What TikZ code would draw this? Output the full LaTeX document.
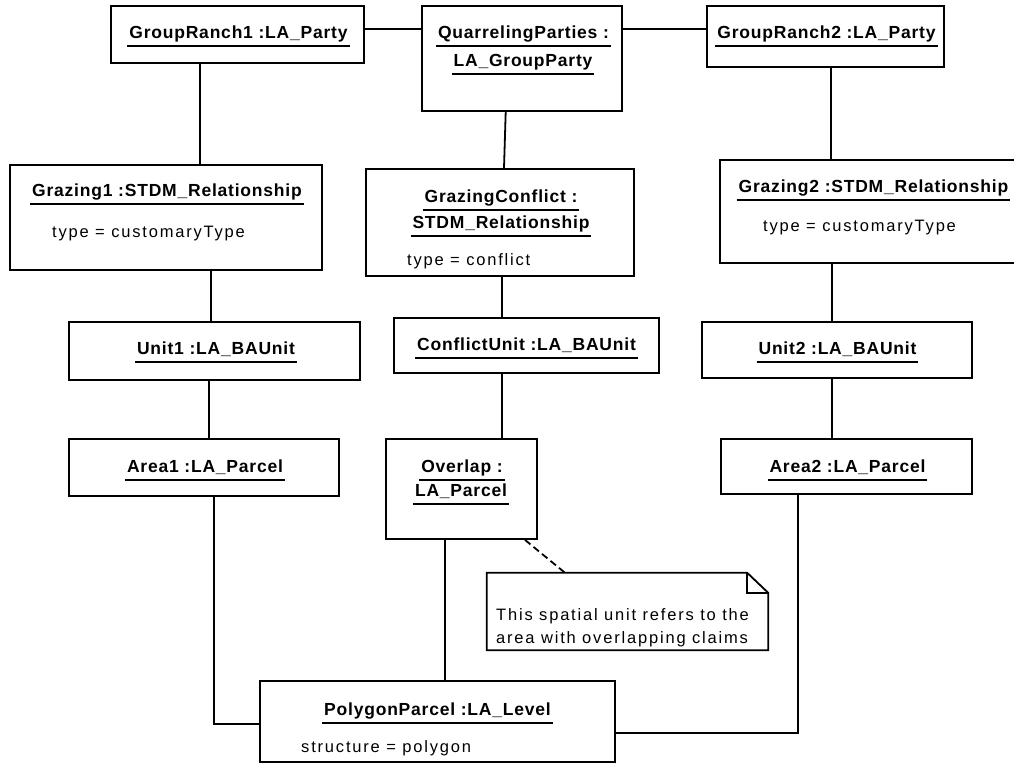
\documentclass[tikz,border=0pt]{standalone}
\usepackage{fontspec}
\setmainfont{Liberation Sans}
\newfontfamily\ttlfam[LetterSpace=4.5]{Liberation Sans}
\newfontfamily\attfam[LetterSpace=11]{Liberation Sans}
\newcommand\ulx[1]{\setbox0\hbox{#1}\rlap{\kern-2pt\rule[-9pt]{\dimexpr\wd0+4pt\relax}{1.8pt}}\box0}
\tikzset{
  box/.style={draw, line width=1.8pt, inner sep=0pt, fill=white},
  ttl/.style={anchor=base, inner sep=0pt, font=\ttlfam\bfseries\fontsize{17.5}{20}\selectfont},
  att/.style={anchor=base west, inner sep=0pt, font=\attfam\fontsize{16.5}{19}\selectfont},
  conn/.style={line width=1.8pt},
  notelink/.style={line width=1.8pt, dash pattern=on 7pt off 4pt}
}
\begin{document}
\begin{tikzpicture}[x=1pt,y=-1pt]
\useasboundingbox (0,0) rectangle (1014,764);
% column / row helper coordinates
\coordinate (c200) at (200,0);
\coordinate (c211) at (211,0);
\coordinate (c209) at (209,0);
\coordinate (c214) at (214,0);
\coordinate (c445) at (445,0);
\coordinate (c502) at (502,0);
\coordinate (c504) at (504,0);
\coordinate (c506) at (505.7,0);
\coordinate (c525) at (525,0);
\coordinate (c565) at (565,0);
\coordinate (c798) at (798,0);
\coordinate (c831) at (831,0);
\coordinate (c832) at (832,0);
\coordinate (r29) at (0,29);
\coordinate (r724) at (0,724);
\coordinate (r733) at (0,733);

% boxes
\node[box, minimum width=253pt, minimum height=57pt] (gr1) at (237.5,34.5) {};
\node[box, minimum width=200pt, minimum height=105pt] (qp) at (522,58.5) {};
\node[box, minimum width=237pt, minimum height=61pt] (gr2) at (825.5,36.5) {};
\node[box, minimum width=312pt, minimum height=105pt] (gz1) at (166,217.5) {};
\node[box, minimum width=268pt, minimum height=107pt] (gc) at (500,222.5) {};
\node[box, minimum width=300pt, minimum height=103pt] (gz2) at (870,211.5) {};
\node[box, minimum width=291pt, minimum height=58pt] (u1) at (214.5,351) {};
\node[box, minimum width=265pt, minimum height=55pt] (cu) at (526.5,345.5) {};
\node[box, minimum width=270pt, minimum height=56pt] (u2) at (837,350) {};
\node[box, minimum width=270pt, minimum height=57pt] (a1) at (204,467.5) {};
\node[box, minimum width=151pt, minimum height=100pt] (ov) at (461.5,489) {};
\node[box, minimum width=251pt, minimum height=55pt] (a2) at (846.5,466.5) {};
\node[box, minimum width=355pt, minimum height=81pt] (poly) at (437.5,721.5) {};
\node[inner sep=0pt, minimum width=281pt, minimum height=77pt] (note) at (627.5,611.5) {};
\draw[line width=1.8pt, fill=white, line join=miter]
  (note.north west) -- ([xshift=-21pt]note.north east) -- ([yshift=-20pt]note.north east)
  -- (note.south east) -- (note.south west) -- cycle;
\draw[line width=1.8pt]
  ([xshift=-21pt]note.north east) -- ([xshift=-21pt,yshift=-20pt]note.north east) -- ([yshift=-20pt]note.north east);

% texts
\node[ttl] (t-gr1) at (238.5,38) {\ulx{GroupRanch1 :LA\_Party}};
\node[ttl] (t-qp1) at (523.5,38) {\ulx{QuarrelingParties :}};
\node[ttl] (t-qp2) at (523,66) {\ulx{LA\_GroupParty}};
\node[ttl] (t-gr2) at (826.5,38) {\ulx{GroupRanch2 :LA\_Party}};
\node[ttl] (t-gz1) at (167,196) {\ulx{Grazing1 :STDM\_Relationship}};
\node[att] (a-gz1) at (52,237) {type = customaryType};
\node[ttl] (t-gc1) at (501,202) {\ulx{GrazingConflict :}};
\node[ttl] (t-gc2) at (501,228) {\ulx{STDM\_Relationship}};
\node[att] (a-gc) at (407,265) {type = conflict};
\node[ttl] (t-gz2) at (873.5,192) {\ulx{Grazing2 :STDM\_Relationship}};
\node[att] (a-gz2) at (763,231) {type = customaryType};
\node[ttl] (t-u1) at (216,354) {\ulx{Unit1 :LA\_BAUnit}};
\node[ttl] (t-cu) at (526.5,350) {\ulx{ConflictUnit :LA\_BAUnit}};
\node[ttl] (t-u2) at (837.5,354) {\ulx{Unit2 :LA\_BAUnit}};
\node[ttl] (t-a1) at (205,472) {\ulx{Area1 :LA\_Parcel}};
\node[ttl] (t-ov1) at (462,472) {\ulx{Overlap :}};
\node[ttl] (t-ov2) at (461,496) {\ulx{LA\_Parcel}};
\node[ttl] (t-a2) at (847.5,472) {\ulx{Area2 :LA\_Parcel}};
\node[ttl] (t-poly) at (437.5,715) {\ulx{PolygonParcel :LA\_Level}};
\node[att] (a-poly) at (301,752) {structure = polygon};
\node[att] (n1) at (496,620) {This spatial unit refers to the};
\node[att] (n2) at (496,643) {area with overlapping claims};

% connectors
\draw[conn] (gr1.east |- r29) -- (qp.west |- r29);
\draw[conn] (qp.east |- r29) -- (gr2.west |- r29);
\draw[conn] (gr1.south -| c200) -- (gz1.north -| c200);
\draw[conn] (qp.south -| c506) -- (gc.north -| c504);
\draw[conn] (gr2.south -| c831) -- (gz2.north -| c831);
\draw[conn] (gz1.south -| c211) -- (u1.north -| c211);
\draw[conn] (gc.south -| c502) -- (cu.north -| c502);
\draw[conn] (gz2.south -| c832) -- (u2.north -| c832);
\draw[conn] (u1.south -| c209) -- (a1.north -| c209);
\draw[conn] (cu.south -| c502) -- (ov.north -| c502);
\draw[conn] (u2.south -| c832) -- (a2.north -| c832);
\draw[conn] (a1.south -| c214) |- (poly.west |- r724);
\draw[conn] (ov.south -| c445) -- (poly.north -| c445);
\draw[conn] (a2.south -| c798) |- (poly.east |- r733);
\draw[notelink] (ov.south -| c525) -- (note.north -| c565);
\end{tikzpicture}
\end{document}
